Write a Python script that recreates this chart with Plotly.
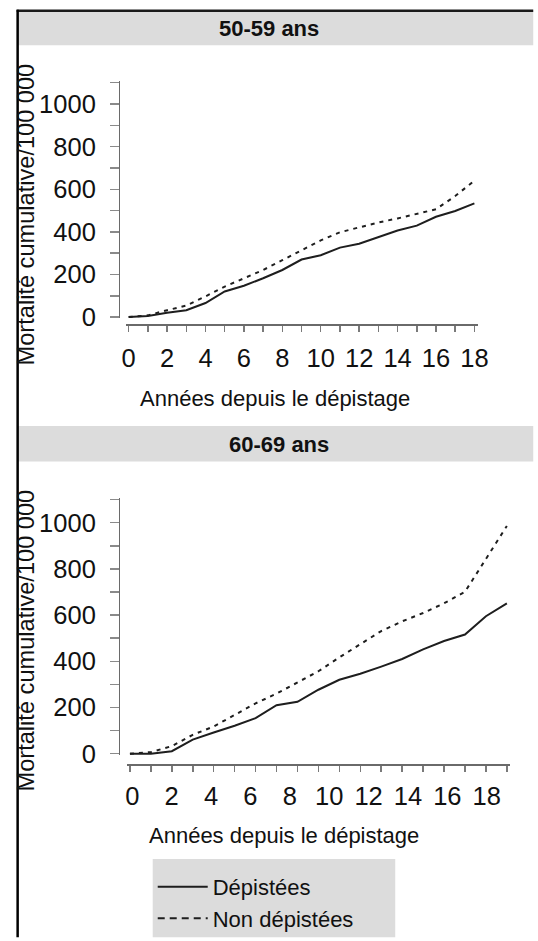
import plotly.graph_objects as go

# ---------------- data ----------------
years = list(range(19))
tick_labels = ["0", "2", "4", "6", "8", "10", "12", "14", "16", "18"]
tick_label_years = [0, 2, 4, 6, 8, 10, 12, 14, 16, 18]

# 50-59 ans
depistees_50 = [0, 5, 20, 32, 66, 120, 147, 182, 221, 270, 290, 326, 344, 375, 406, 429, 471, 498, 534]
non_depistees_50 = [0, 8, 32, 54, 97, 143, 182, 221, 267, 313, 360, 398, 421, 444, 463, 483, 506, 568, 640]

# 60-69 ans
depistees_60 = [0, 0, 11, 61, 92, 121, 154, 210, 225, 277, 320, 346, 377, 410, 452, 488, 516, 595, 651]
non_depistees_60 = [0, 7, 33, 82, 118, 168, 218, 260, 310, 357, 417, 474, 531, 573, 609, 651, 701, 843, 986]

panel_titles = ["50-59 ans", "60-69 ans"]
x_title = "Années depuis le dépistage"
y_title = "Mortalité cumulative/100 000"
series_names = ["Dépistées", "Non dépistées"]

# ---------------- geometry helpers ----------------
W, H = 538, 941
def px(x):
    return x / W
def py(y):
    return 1 - y / H

FONT = "Liberation Sans, Arial, sans-serif"
LINE_COL = "#1e1e1e"
AXIS_COL = "#6a6a6a"
BAR_COL = "#dcdcdc"

fig = go.Figure()

solid = dict(color=LINE_COL, width=2)
dashed = dict(color=LINE_COL, width=2, dash="4px,5px")

fig.add_trace(go.Scatter(x=years, y=depistees_50, mode="lines", line=solid,
                         name=series_names[0], xaxis="x", yaxis="y", showlegend=False))
fig.add_trace(go.Scatter(x=years, y=non_depistees_50, mode="lines", line=dashed,
                         name=series_names[1], xaxis="x", yaxis="y", showlegend=False))
fig.add_trace(go.Scatter(x=years, y=depistees_60, mode="lines", line=solid,
                         name=series_names[0], xaxis="x2", yaxis="y2", showlegend=False))
fig.add_trace(go.Scatter(x=years, y=non_depistees_60, mode="lines", line=dashed,
                         name=series_names[1], xaxis="x2", yaxis="y2", showlegend=False))
# legend entries (legend-only styling, as in the original key)
fig.add_trace(go.Scatter(x=[None], y=[None], mode="lines", line=solid, name=series_names[0],
                         xaxis="x2", yaxis="y2"))
fig.add_trace(go.Scatter(x=[None], y=[None], mode="lines", line=dict(color=LINE_COL, width=2, dash="7px,5px"),
                         name=series_names[1], xaxis="x2", yaxis="y2"))
# invisible trace to activate the label axis of panel 2
fig.add_trace(go.Scatter(x=[0], y=[0], mode="markers", marker=dict(opacity=0), xaxis="x3", yaxis="y2",
                         showlegend=False, hoverinfo="skip"))

# ---- panel 1 scales ----
p1_x0, p1_sx = 128.0, 19.72       # px of year 0, px per year
p1_xr = [-0.15, 18.2]
p1_y0, p1_sy = 321.5, 0.216       # px of value 0, px per unit
p1_yr = [-6, 1110]

# ---- panel 2 scales ----
p2_x0, p2_sx = 129.3, 21.5
p2_xr = [-0.12, 18.17]
p2_y0, p2_sy = 764.3, 0.2343
p2_yr = [-6, 1107]
p2_lab_x0, p2_lab_sx = 131.7, 20.22

def xdom(x0, sx, xr):
    return [px(x0 + xr[0] * sx), px(x0 + xr[1] * sx)]
def ydom(y0, sy, yr):
    return [py(y0 - yr[0] * sy), py(y0 - yr[1] * sy)]

tickfont = dict(family=FONT, size=25.5, color="#111")

yaxis_common = dict(
    anchor="free", position=px(118), showline=True, linecolor=AXIS_COL, linewidth=1.5,
    ticks="outside", ticklen=9, tickcolor="#8a8a8a", tickwidth=1.5,
    tickvals=[0, 200, 400, 600, 800, 1000],
    minor=dict(dtick=100, ticks="outside", ticklen=9, tickcolor="#8a8a8a", tickwidth=1.5, showgrid=False),
    showgrid=False, zeroline=False, tickfont=tickfont, ticklabelstandoff=9, fixedrange=True,
)

xaxis_common = dict(
    showline=True, linecolor=AXIS_COL, linewidth=2, anchor="free",
    ticks="outside", ticklen=6, tickcolor="#7a7a7a", tickwidth=1.5,
    showgrid=False, zeroline=False, tickfont=tickfont, fixedrange=True,
)

fig.update_layout(
    width=W, height=H,
    margin=dict(l=0, r=0, t=0, b=0),
    paper_bgcolor="white", plot_bgcolor="rgba(0,0,0,0)",
    hovermode=False,
    xaxis=dict(**xaxis_common, domain=xdom(p1_x0, p1_sx, p1_xr), range=p1_xr, position=py(330),
               tickvals=tick_label_years, ticktext=tick_labels, ticklabelstandoff=4,
               minor=dict(dtick=1, ticks="outside", ticklen=6, tickcolor="#7a7a7a", tickwidth=1.5)),
    yaxis=dict(**yaxis_common, domain=ydom(p1_y0, p1_sy, p1_yr), range=p1_yr),
    xaxis2=dict(**xaxis_common, domain=xdom(p2_x0, p2_sx, p2_xr), range=p2_xr, position=py(776),
                tickvals=years, showticklabels=False),
    xaxis3=dict(domain=xdom(p2_x0, p2_sx, p2_xr), overlaying="x2", anchor="free", position=py(776),
                range=[(p2_x0 + p2_xr[0] * p2_sx - p2_lab_x0) / p2_lab_sx,
                       (p2_x0 + p2_xr[1] * p2_sx - p2_lab_x0) / p2_lab_sx],
                tickvals=tick_label_years, ticktext=tick_labels, showline=False, ticks="outside",
                ticklen=6, tickcolor="rgba(0,0,0,0)", showgrid=False, zeroline=False,
                tickfont=tickfont, ticklabelstandoff=2, fixedrange=True),
    yaxis2=dict(**yaxis_common, domain=ydom(p2_y0, p2_sy, p2_yr), range=p2_yr),
    showlegend=True,
    legend=dict(x=px(152.7), y=py(878), xanchor="left", yanchor="top",
                bgcolor="rgba(0,0,0,0)", borderwidth=0, itemwidth=50,
                font=dict(family=FONT, size=22, color="#111"),
                tracegroupgap=0, traceorder="normal"),
)

# frame, title bars and legend background
shapes = [
    dict(type="rect", xref="paper", yref="paper", x0=px(14), x1=1.01, y0=py(46), y1=py(12),
         fillcolor=BAR_COL, line=dict(width=0), layer="below"),
    dict(type="rect", xref="paper", yref="paper", x0=px(14), x1=1.01, y0=py(468), y1=py(432),
         fillcolor=BAR_COL, line=dict(width=0), layer="below"),
    dict(type="rect", xref="paper", yref="paper", x0=px(152.7), x1=px(401.7), y0=-0.01, y1=py(871),
         fillcolor=BAR_COL, line=dict(width=0), layer="below"),
    dict(type="line", xref="paper", yref="paper", x0=px(13), x1=1.01, y0=py(11), y1=py(11),
         line=dict(color="#1a1a1a", width=2.5)),
    dict(type="line", xref="paper", yref="paper", x0=px(14), x1=px(14), y0=py(10), y1=-0.01,
         line=dict(color="#000", width=2.5)),
]
fig.update_layout(shapes=shapes)

ann = []
ann.append(dict(text=f"<b>{panel_titles[0]}</b>", x=px(272), y=py(29), xref="paper", yref="paper",
                showarrow=False, font=dict(family=FONT, size=22, color="#111"), xanchor="center", yanchor="middle"))
ann.append(dict(text=f"<b>{panel_titles[1]}</b>", x=px(282), y=py(451), xref="paper", yref="paper",
                showarrow=False, font=dict(family=FONT, size=22, color="#111"), xanchor="center", yanchor="middle"))
ann.append(dict(text=x_title, x=px(278), y=py(404), xref="paper", yref="paper", showarrow=False,
                font=dict(family=FONT, size=22, color="#111"), xanchor="center", yanchor="middle"))
ann.append(dict(text=x_title, x=px(287), y=py(847), xref="paper", yref="paper", showarrow=False,
                font=dict(family=FONT, size=22, color="#111"), xanchor="center", yanchor="middle"))
ann.append(dict(text=y_title, x=px(23), y=py(217), xref="paper", yref="paper", showarrow=False, textangle=-90,
                font=dict(family=FONT, size=23.6, color="#111"), xanchor="center", yanchor="middle"))
ann.append(dict(text=y_title, x=px(23), y=py(649), xref="paper", yref="paper", showarrow=False, textangle=-90,
                font=dict(family=FONT, size=23.6, color="#111"), xanchor="center", yanchor="middle"))
fig.update_layout(annotations=ann)

fig.write_html("out.html", config={"displayModeBar": False, "staticPlot": True},
               post_script="document.body.style.margin='0';document.body.style.overflow='hidden';")
